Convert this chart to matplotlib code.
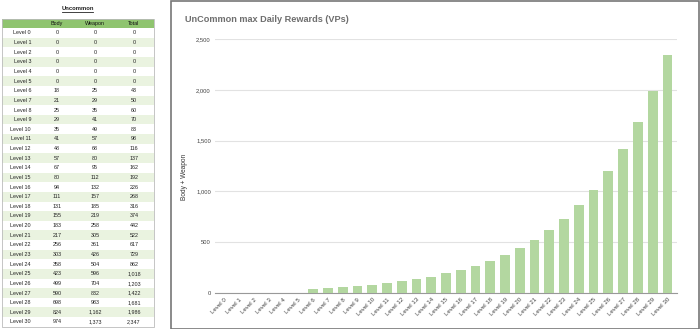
import numpy as np
import matplotlib
matplotlib.use('Agg')
import matplotlib.pyplot as plt
from matplotlib.patches import Rectangle
from matplotlib.ticker import FuncFormatter

plt.rcParams['font.family'] = ['Liberation Sans', 'DejaVu Sans']

# ── datos ─────────────────────────────────────────────────────────────────────
levels = [f'Level {i}' for i in range(31)]
body   = [0, 0, 0, 0, 0, 0, 18, 21, 25, 29, 35, 41, 48, 57, 67, 80, 94, 111,
          131, 155, 183, 217, 256, 303, 358, 423, 499, 590, 698, 824, 974]
weapon = [0, 0, 0, 0, 0, 0, 25, 29, 35, 41, 49, 57, 68, 80, 95, 112, 132, 157,
          185, 219, 258, 305, 361, 426, 504, 596, 704, 832, 983, 1162, 1373]
total  = [0, 0, 0, 0, 0, 0, 43, 50, 60, 70, 83, 98, 116, 137, 162, 192, 226,
          268, 316, 374, 442, 522, 617, 729, 862, 1018, 1203, 1422, 1681, 1986,
          2347]
header = ['Body', 'Weapon', 'Total']

BAR   = '#b3d7a0'
HEAD  = '#8fc46f'
ALT   = '#eaf3e0'
TXT   = '#222222'

W, H = 700, 329
fig = plt.figure(figsize=(W / 100, H / 100), dpi=100, facecolor='white')

# ── tabla (coordenadas en píxeles) ───────────────────────────────────────────
axt = fig.add_axes([0, 0, 170 / W, 1])
axt.set_xlim(0, 170)
axt.set_ylim(H, 0)
axt.axis('off')

row_h = 9.63
y0 = 33.0
x_left, x_right = 2, 154
col_x = [57, 95, 134]
fs_tab = 3.9

axt.text(77.5, 9, 'Uncommon', ha='center', va='center', fontsize=4.2,
         fontweight='bold', color='#222222')
axt.plot([62, 93], [12.3, 12.3], color='#222222', lw=0.6)

# cabecera
axt.add_patch(Rectangle((x_left, y0 - 1.5 * row_h), x_right - x_left, row_h,
                        facecolor=HEAD, edgecolor='none'))
for x, h in zip(col_x, header):
    axt.text(x, y0 - row_h, h, ha='center', va='center', fontsize=fs_tab,
             color='#111111')

for i, lv in enumerate(levels):
    y = y0 + i * row_h
    if i % 2 == 1:
        axt.add_patch(Rectangle((x_left, y - row_h / 2), x_right - x_left,
                                row_h, facecolor=ALT, edgecolor='none'))
    axt.text(31, y, lv, ha='right', va='center', fontsize=fs_tab, color=TXT)
    for x, v in zip(col_x, [body[i], weapon[i], total[i]]):
        axt.text(x, y, f'{v:,}', ha='center', va='center', fontsize=fs_tab,
                 color=TXT)

bottom = y0 + 30.5 * row_h
axt.add_patch(Rectangle((x_left, y0 - 1.5 * row_h), x_right - x_left,
                        bottom - (y0 - 1.5 * row_h), facecolor='none',
                        edgecolor='#bbbbbb', lw=0.6))

# ── panel del gráfico ────────────────────────────────────────────────────────
fig.patches.append(Rectangle((170.5 / W, 0.5 / H), 528.5 / W, 327.5 / H,
                             transform=fig.transFigure, facecolor='none',
                             edgecolor='#777777', lw=1.2))

fig.text(185 / W, 1 - 20 / H, 'UnCommon max Daily Rewards (VPs)',
         fontsize=6.6, fontweight='bold', color='#6e6e6e', va='center')

ax = fig.add_axes([215 / W, 1 - 293 / H, (677 - 215) / W, (293 - 39) / H])
ax.patch.set_alpha(0)
x = np.arange(len(levels))
ax.bar(x, total, width=0.66, color=BAR, zorder=3)
ax.set_xlim(-0.65, 30.65)
ax.set_ylim(0, 2500)
ax.set_yticks([0, 500, 1000, 1500, 2000, 2500])
ax.yaxis.set_major_formatter(FuncFormatter(lambda v, p: f'{int(v):,}'))
ax.grid(axis='y', color='#e2e2e2', lw=0.8, zorder=0)
for s in ['top', 'right', 'left']:
    ax.spines[s].set_visible(False)
ax.spines['bottom'].set_color('#999999')
ax.spines['bottom'].set_linewidth(0.8)
ax.set_xticks(x)
ax.set_xticklabels(levels, rotation=45, ha='right', rotation_mode='anchor',
                   fontsize=4.4, color='#444444')
ax.tick_params(axis='both', length=0, pad=3)
ax.tick_params(axis='y', labelsize=4.2, labelcolor='#444444', pad=3)
ax.set_ylabel('Body + Weapon', fontsize=4.7, color='#333333')
ax.yaxis.set_label_coords((188 - 215) / (677 - 215), (293 - 177) / (293 - 39))

fig.savefig('out.png', dpi=100, facecolor='white')
